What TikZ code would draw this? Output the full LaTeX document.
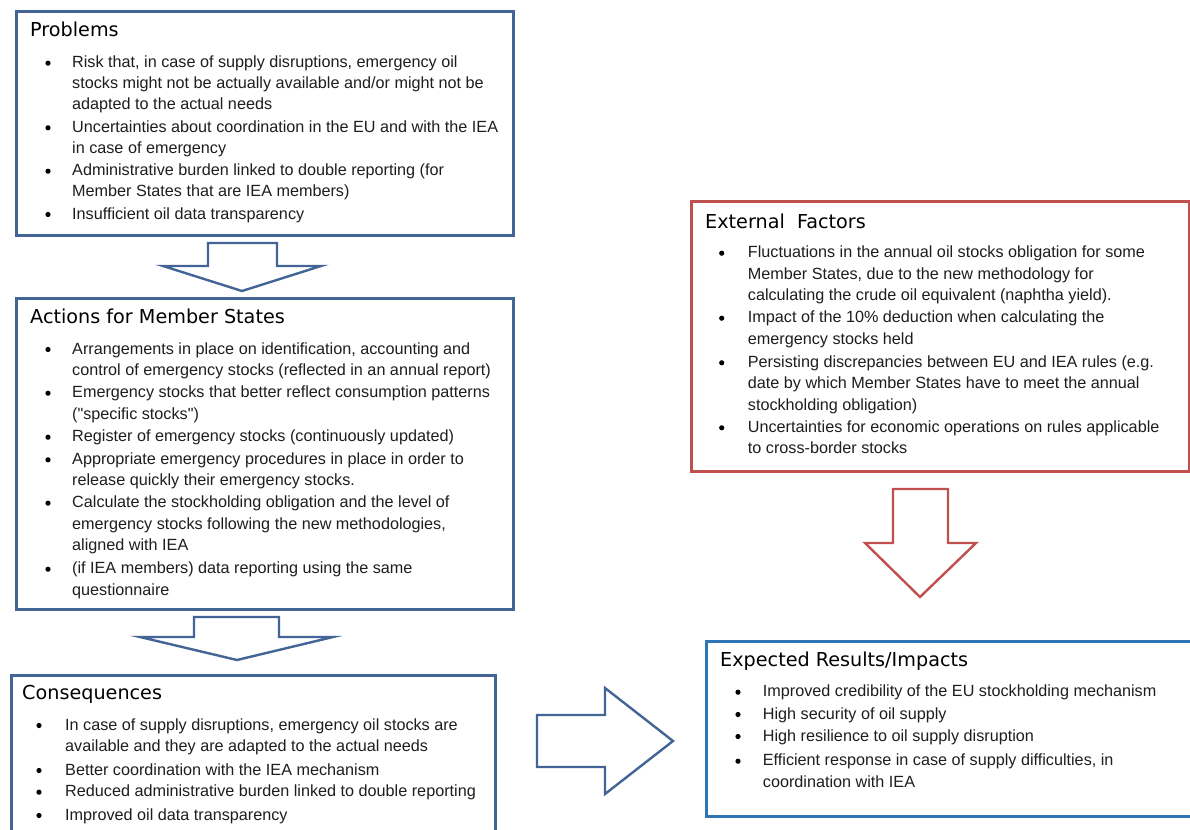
\documentclass[tikz,border=0pt]{standalone}
\usepackage{fontspec}
\setmainfont{Liberation Sans}
\newfontfamily\ttlfont{DejaVu Sans}
\definecolor{dblue}{RGB}{66,101,150}
\definecolor{lblue}{RGB}{46,117,182}
\definecolor{dred}{RGB}{192,80,77}
\definecolor{txt}{RGB}{30,30,30}
\tikzset{
  body/.style={anchor=base west, inner sep=0pt, font=\fontsize{16.2}{19}\selectfont, text=txt},
  ttl/.style={anchor=base west, inner sep=0pt, font=\ttlfont\fontsize{19.2}{22}\selectfont, text=black},
  bul/.style={circle, fill=black, inner sep=0pt, minimum size=5.2pt},
  boxb/.style={draw=dblue, line width=2.6pt, rectangle, anchor=north west, inner sep=0pt},
  boxl/.style={draw=lblue, line width=2.6pt, rectangle, anchor=north west, inner sep=0pt},
  boxr/.style={draw=dred, line width=2.6pt, rectangle, anchor=north west, inner sep=0pt},
  barrow/.style={draw=dblue, line width=2.4pt, fill=white, line join=miter},
  rarrow/.style={draw=dred, line width=2.4pt, fill=white, line join=miter},
}
\newcommand\bline[4]{\node[body] (#1) at (#2,{#3+5}) {#4};}
\newcommand\bdot[3]{\node[bul] (#1) at (#2,{#3+0.5}) {};}
\newcommand\tline[4]{\node[ttl] (#1) at (#2,{#3+6.5}) {#4};}
\begin{document}
\begin{tikzpicture}[x=1pt,y=-1pt]
\useasboundingbox (0,0) rectangle (1190,829);
\clip (0,0) rectangle (1190,829);
\fill[white] (0,0) rectangle (1190,829);

% boxes
\node[boxb, minimum width=497pt, minimum height=224pt] (prob) at (15,10) {};
\node[boxb, minimum width=497pt, minimum height=311pt] (act) at (15,297) {};
\node[boxb, minimum width=484pt, minimum height=170pt] (cons) at (10,674) {};
\node[boxr, minimum width=498pt, minimum height=270pt] (ext) at (690,200) {};
\node[boxl, minimum width=495pt, minimum height=175pt] (res) at (705,640) {};

% block arrows
\draw[barrow] (208,243) -- (277,243) -- (277,266) -- (321,266) -- (242,291) -- (163,266) -- (208,266) -- cycle;
\draw[barrow] (194,617) -- (279,617) -- (279,637) -- (333,637) -- (237,660) -- (140,637) -- (194,637) -- cycle;
\draw[rarrow] (893,489) -- (948,489) -- (948,543) -- (976,543) -- (920,597) -- (865,543) -- (893,543) -- cycle;
\draw[barrow] (537,715) -- (605,715) -- (605,688) -- (673,741) -- (605,794) -- (605,767) -- (537,767) -- cycle;

% Problems
\tline{pt}{30}{30}{Problems}
\bdot{pb1}{48}{62.7}\bline{p1}{72}{62.7}{Risk that, in case of supply disruptions, emergency oil}
\bline{p2}{72}{83.3}{stocks might not be actually available and/or might not be}
\bline{p3}{72}{105}{adapted to the actual needs}
\bdot{pb2}{48}{127.3}\bline{p4}{72}{127.3}{Uncertainties about coordination in the EU and with the IEA}
\bline{p5}{72}{148.3}{in case of emergency}
\bdot{pb3}{48}{170.7}\bline{p6}{72}{170.7}{Administrative burden linked to double reporting (for}
\bline{p7}{72}{191.7}{Member States that are IEA members)}
\bdot{pb4}{48}{214}\bline{p8}{72}{214}{Insufficient oil data transparency}

% Actions
\tline{at}{30}{316.7}{Actions for Member States}
\bdot{ab1}{48}{349}\bline{a1}{72}{349}{Arrangements in place on identification, accounting and}
\bline{a2}{72}{370}{control of emergency stocks (reflected in an annual report)}
\bdot{ab2}{48}{392.7}\bline{a3}{72}{392.7}{Emergency stocks that better reflect consumption patterns}
\bline{a4}{72}{414}{(\textquotedbl specific stocks\textquotedbl)}
\bdot{ab3}{48}{436.7}\bline{a5}{72}{436.7}{Register of emergency stocks (continuously updated)}
\bdot{ab4}{48}{459.3}\bline{a6}{72}{459.3}{Appropriate emergency procedures in place in order to}
\bline{a7}{72}{480.7}{release quickly their emergency stocks.}
\bdot{ab5}{48}{502.7}\bline{a8}{72}{502.7}{Calculate the stockholding obligation and the level of}
\bline{a9}{72}{524.3}{emergency stocks following the new methodologies,}
\bline{a10}{72}{545.7}{aligned with IEA}
\bdot{ab6}{48}{568.7}\bline{a11}{72}{568.7}{(if IEA members) data reporting using the same}
\bline{a12}{72}{590}{questionnaire}

% Consequences
\tline{ct}{22}{693}{Consequences}
\bdot{cb1}{39}{725}\bline{c1}{65}{725}{In case of supply disruptions, emergency oil stocks are}
\bline{c2}{65}{746.7}{available and they are adapted to the actual needs}
\bdot{cb2}{39}{770}\bline{c3}{65}{770}{Better coordination with the IEA mechanism}
\bdot{cb3}{39}{791.7}\bline{c4}{65}{791.7}{Reduced administrative burden linked to double reporting}
\bdot{cb4}{39}{815}\bline{c5}{65}{815}{Improved oil data transparency}

% External Factors
\tline{et}{705}{221.7}{External~~Factors}
\bdot{eb1}{721.7}{252.7}\bline{e1}{747.7}{252.7}{Fluctuations in the annual oil stocks obligation for some}
\bline{e2}{747.7}{274}{Member States, due to the new methodology for}
\bline{e3}{747.7}{295.7}{calculating the crude oil equivalent (naphtha yield).}
\bdot{eb2}{721.7}{317.7}\bline{e4}{747.7}{317.7}{Impact of the 10\% deduction when calculating the}
\bline{e5}{747.7}{339}{emergency stocks held}
\bdot{eb3}{721.7}{362.3}\bline{e6}{747.7}{362.3}{Persisting discrepancies between EU and IEA rules (e.g.}
\bline{e7}{747.7}{383.3}{date by which Member States have to meet the annual}
\bline{e8}{747.7}{405}{stockholding obligation)}
\bdot{eb4}{721.7}{427.3}\bline{e9}{747.7}{427.3}{Uncertainties for economic operations on rules applicable}
\bline{e10}{747.7}{448.3}{to cross-border stocks}

% Expected Results
\tline{rt}{720}{660}{Expected Results/Impacts}
\bdot{rb1}{738}{691.7}\bline{r1}{762.7}{691.7}{Improved credibility of the EU stockholding mechanism}
\bdot{rb2}{738}{714}\bline{r2}{762.7}{714}{High security of oil supply}
\bdot{rb3}{738}{736}\bline{r3}{762.7}{736}{High resilience to oil supply disruption}
\bdot{rb4}{738}{760.7}\bline{r4}{762.7}{760.7}{Efficient response in case of supply difficulties, in}
\bline{r5}{762.7}{782.3}{coordination with IEA}
\end{tikzpicture}
\end{document}
